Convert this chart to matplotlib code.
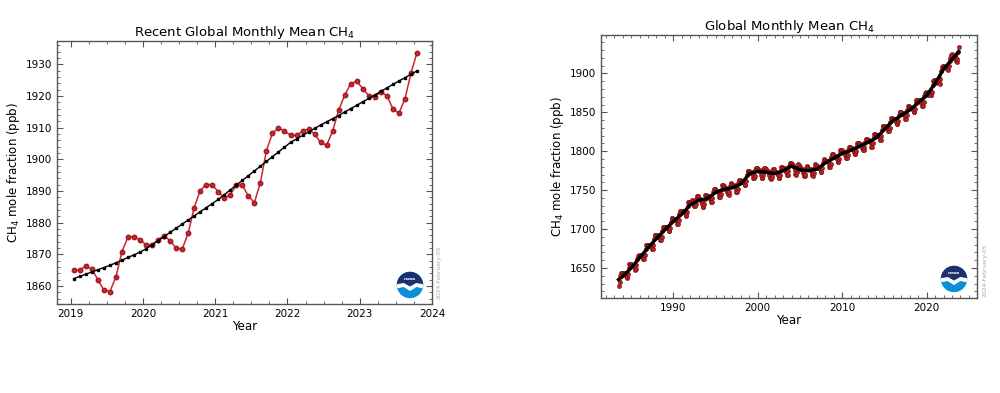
import matplotlib.pyplot as plt
from matplotlib.patches import Circle, Polygon, Wedge
from matplotlib.ticker import MultipleLocator

# recent monthly means Jan 2019 - Oct 2023 (ppb)
recent_ch4 = [
    1865.0, 1865.0, 1866.3, 1865.4, 1862.0, 1858.7, 1858.2, 1862.8, 1870.8, 1875.4, 1875.5, 1874.6,
    1873.0, 1872.8, 1874.6, 1875.8, 1874.3, 1871.9, 1871.6, 1876.6, 1884.7, 1890.1, 1892.0, 1892.0,
    1889.7, 1887.7, 1888.8, 1891.8, 1891.8, 1888.4, 1886.3, 1892.6, 1902.7, 1908.2, 1909.9, 1908.9,
    1907.6, 1907.6, 1908.8, 1909.6, 1907.9, 1905.3, 1904.4, 1908.9, 1915.5, 1920.2, 1923.9, 1924.6,
    1922.3, 1920.1, 1919.8, 1921.2, 1920.1, 1915.9, 1914.5, 1919.0, 1927.1, 1933.6,
]
recent_trend = [
    1862.3, 1863.0, 1863.7, 1864.4, 1865.1, 1865.8, 1866.5, 1867.3, 1868.1, 1869.0, 1869.8, 1870.7,
    1871.7, 1873.0, 1874.3, 1875.6, 1876.9, 1878.2, 1879.5, 1880.8, 1882.1, 1883.4, 1884.7, 1886.0,
    1887.3, 1888.8, 1890.3, 1891.8, 1893.3, 1894.8, 1896.3, 1897.8, 1899.3, 1900.8, 1902.3, 1903.8,
    1905.3, 1906.4, 1907.5, 1908.6, 1909.7, 1910.8, 1911.8, 1912.8, 1913.8, 1914.9, 1916.0, 1917.0,
    1918.1, 1919.2, 1920.3, 1921.4, 1922.5, 1923.6, 1924.7, 1925.7, 1926.8, 1927.9,
]
recent_start = 2019

# full record, monthly means Jul 1983 - Dec 2018, one row per year
ch4_1983_2018 = [
    [1627, 1632, 1640, 1644, 1644, 1643],
    [1642, 1642, 1643, 1643, 1640, 1637, 1638, 1642, 1650, 1655, 1655, 1655],
    [1652, 1653, 1654, 1654, 1651, 1648, 1649, 1654, 1662, 1666, 1667, 1666],
    [1665, 1666, 1667, 1667, 1664, 1661, 1662, 1667, 1675, 1679, 1680, 1679],
    [1678, 1678, 1680, 1680, 1677, 1674, 1675, 1679, 1687, 1692, 1692, 1692],
    [1690, 1690, 1692, 1691, 1689, 1686, 1686, 1690, 1698, 1703, 1703, 1702],
    [1701, 1701, 1703, 1702, 1700, 1697, 1697, 1701, 1709, 1714, 1714, 1713],
    [1712, 1712, 1713, 1713, 1710, 1707, 1707, 1711, 1719, 1723, 1723, 1723],
    [1722, 1722, 1723, 1723, 1720, 1717, 1718, 1722, 1730, 1735, 1735, 1735],
    [1734, 1735, 1737, 1736, 1733, 1729, 1729, 1732, 1739, 1742, 1742, 1741],
    [1739, 1738, 1738, 1736, 1732, 1728, 1728, 1732, 1739, 1744, 1744, 1743],
    [1741, 1741, 1742, 1741, 1739, 1735, 1735, 1740, 1747, 1751, 1752, 1751],
    [1749, 1749, 1749, 1748, 1745, 1741, 1741, 1745, 1752, 1756, 1756, 1755],
    [1753, 1752, 1753, 1752, 1748, 1745, 1744, 1748, 1755, 1759, 1758, 1757],
    [1755, 1755, 1756, 1755, 1751, 1748, 1748, 1752, 1759, 1763, 1763, 1762],
    [1760, 1761, 1762, 1762, 1759, 1756, 1757, 1762, 1770, 1774, 1775, 1774],
    [1773, 1772, 1773, 1772, 1769, 1765, 1765, 1768, 1776, 1779, 1779, 1778],
    [1776, 1775, 1776, 1774, 1770, 1766, 1766, 1769, 1776, 1779, 1779, 1777],
    [1775, 1774, 1774, 1772, 1769, 1765, 1764, 1767, 1774, 1777, 1777, 1775],
    [1773, 1773, 1773, 1772, 1769, 1765, 1765, 1769, 1776, 1780, 1780, 1779],
    [1777, 1777, 1778, 1777, 1773, 1770, 1770, 1774, 1781, 1785, 1785, 1784],
    [1783, 1781, 1782, 1780, 1776, 1771, 1770, 1773, 1780, 1783, 1782, 1780],
    [1778, 1777, 1777, 1776, 1772, 1768, 1768, 1771, 1778, 1781, 1780, 1779],
    [1777, 1776, 1777, 1776, 1772, 1769, 1768, 1772, 1779, 1783, 1782, 1781],
    [1779, 1779, 1780, 1779, 1777, 1773, 1773, 1778, 1785, 1789, 1790, 1789],
    [1787, 1787, 1788, 1787, 1784, 1780, 1780, 1784, 1792, 1796, 1796, 1795],
    [1793, 1793, 1794, 1793, 1790, 1786, 1786, 1790, 1798, 1802, 1802, 1801],
    [1799, 1799, 1799, 1798, 1795, 1791, 1791, 1795, 1802, 1806, 1806, 1805],
    [1803, 1803, 1804, 1803, 1799, 1796, 1796, 1800, 1807, 1811, 1811, 1810],
    [1808, 1808, 1809, 1808, 1804, 1801, 1801, 1805, 1812, 1816, 1816, 1815],
    [1813, 1813, 1814, 1813, 1810, 1806, 1806, 1810, 1818, 1822, 1822, 1821],
    [1820, 1819, 1821, 1820, 1818, 1815, 1815, 1819, 1827, 1832, 1832, 1831],
    [1831, 1830, 1832, 1831, 1829, 1826, 1826, 1830, 1838, 1843, 1843, 1842],
    [1841, 1841, 1842, 1841, 1838, 1835, 1835, 1839, 1846, 1851, 1851, 1850],
    [1848, 1848, 1849, 1848, 1845, 1842, 1842, 1846, 1853, 1858, 1858, 1857],
    [1855, 1855, 1856, 1856, 1853, 1850, 1850, 1854, 1862, 1866, 1866, 1866],
]

# deseasonalized trend, start of each year
trend_years = [1983.5, 1984, 1985, 1986, 1987, 1988, 1989, 1990, 1991, 1992, 1993, 1994,
               1995, 1996, 1997, 1998, 1999, 2000, 2001, 2002, 2003, 2004, 2005, 2006,
               2007, 2008, 2009, 2010, 2011, 2012, 2013, 2014, 2015, 2016, 2017, 2018,
               2019, 2020, 2021, 2022, 2023, 2023.79]
trend_vals = [1635, 1639, 1650, 1663, 1676, 1688, 1699, 1710, 1719, 1731, 1737, 1739,
              1747, 1751, 1753, 1758, 1771, 1774, 1773, 1771, 1775, 1781, 1776, 1775,
              1777, 1785, 1791, 1797, 1801, 1806, 1811, 1817, 1828, 1839, 1846, 1853,
              1862.3, 1871.7, 1887.3, 1905.3, 1918.1, 1927.9]

# decimal dates for the monthly values
recent_t = [recent_start + (i + 0.5) / 12 for i in range(len(recent_ch4))]
full_t = []
full_ch4 = []
for k, row in enumerate(ch4_1983_2018):
    first = 12 - len(row) if k == 0 else 0
    for j, v in enumerate(row):
        full_t.append(1983 + k + (first + j + 0.5) / 12)
        full_ch4.append(v)
full_t += recent_t
full_ch4 += recent_ch4

red = '#c8282d'
fig = plt.figure(figsize=(10, 3.93), dpi=100)


def style_axes(ax):
    ax.tick_params(which='both', direction='in', top=True, right=True, labelsize=7.5,
                   color='#555555')
    ax.tick_params(which='major', length=4)
    ax.tick_params(which='minor', length=2)
    for s in ax.spines.values():
        s.set_color('#555555')
        s.set_linewidth(1)
    ax.set_xlabel('Year', fontsize=8.5, labelpad=1)
    ax.set_ylabel('CH$_4$ mole fraction (ppb)', fontsize=8.5, labelpad=3)


def noaa_logo(cx, cy, diam_px):
    # cx, cy: centre in figure pixels from top-left
    w = diam_px / 1000
    h = diam_px / 393
    la = fig.add_axes([cx / 1000 - w / 2, (393 - cy) / 393 - h / 2, w, h])
    la.set_xlim(-1, 1)
    la.set_ylim(-1, 1)
    la.axis('off')
    la.add_patch(Circle((0, 0), 1, color='#0a8fd8', clip_on=False))
    la.add_patch(Wedge((0, 0), 1, 0, 180, color='#1c2f6e', clip_on=False))
    la.add_patch(Polygon([[-1.0, 0.02], [-0.5, 0.1], [0, -0.2], [0.5, 0.1], [1.0, 0.02],
                          [0.97, -0.2], [0.5, -0.1], [0, -0.42], [-0.5, -0.1], [-0.97, -0.2]],
                         color='white', clip_on=False))
    la.text(0, 0.45, 'noaa', color='white', fontsize=3.2, ha='center', va='center',
            fontweight='bold')


# left panel: recent
ax1 = fig.add_axes([0.057, 0.2265, 0.375, 0.669])
ax1.plot(recent_t, recent_ch4, color=red, lw=1.1, marker='o', ms=3.2,
         mfc=red, mec='#a01a1f', zorder=3)
ax1.plot(recent_t, recent_trend, color='black', lw=1.0, marker='s', ms=2.0, zorder=4)
ax1.set_xlim(2018.81, 2024.0)
ax1.set_ylim(1854.3, 1937.3)
ax1.xaxis.set_major_locator(MultipleLocator(1))
ax1.xaxis.set_minor_locator(MultipleLocator(0.25))
ax1.yaxis.set_major_locator(MultipleLocator(10))
ax1.yaxis.set_minor_locator(MultipleLocator(2))
style_axes(ax1)
ax1.set_title('Recent Global Monthly Mean CH$_4$', fontsize=9.5, pad=3)
fig.text(0.437, 0.24, '2024-February-05', rotation=90, fontsize=4.3, color='#aaaaaa',
         ha='left', va='bottom')
noaa_logo(410, 285, 25)

# right panel: full record
ax2 = fig.add_axes([0.601, 0.2417, 0.376, 0.669])
ax2.plot(full_t, full_ch4, color='#b01e1e', lw=0.8, marker='o', ms=3.0,
         mfc='#b52020', mec='#7a1010', mew=0.4, zorder=3)
ax2.plot(trend_years, trend_vals, color='black', lw=2.4, zorder=4)
ax2.set_xlim(1981.43, 2025.96)
ax2.set_ylim(1611.4, 1949.2)
ax2.xaxis.set_major_locator(MultipleLocator(10))
ax2.xaxis.set_minor_locator(MultipleLocator(1))
ax2.yaxis.set_major_locator(MultipleLocator(50))
ax2.yaxis.set_minor_locator(MultipleLocator(10))
style_axes(ax2)
ax2.set_title('Global Monthly Mean CH$_4$', fontsize=9.5, pad=3)
fig.text(0.982, 0.245, '2024-February-05', rotation=90, fontsize=4.3, color='#aaaaaa',
         ha='left', va='bottom')
noaa_logo(954, 279, 25)

fig.savefig('out.png', dpi=100)
